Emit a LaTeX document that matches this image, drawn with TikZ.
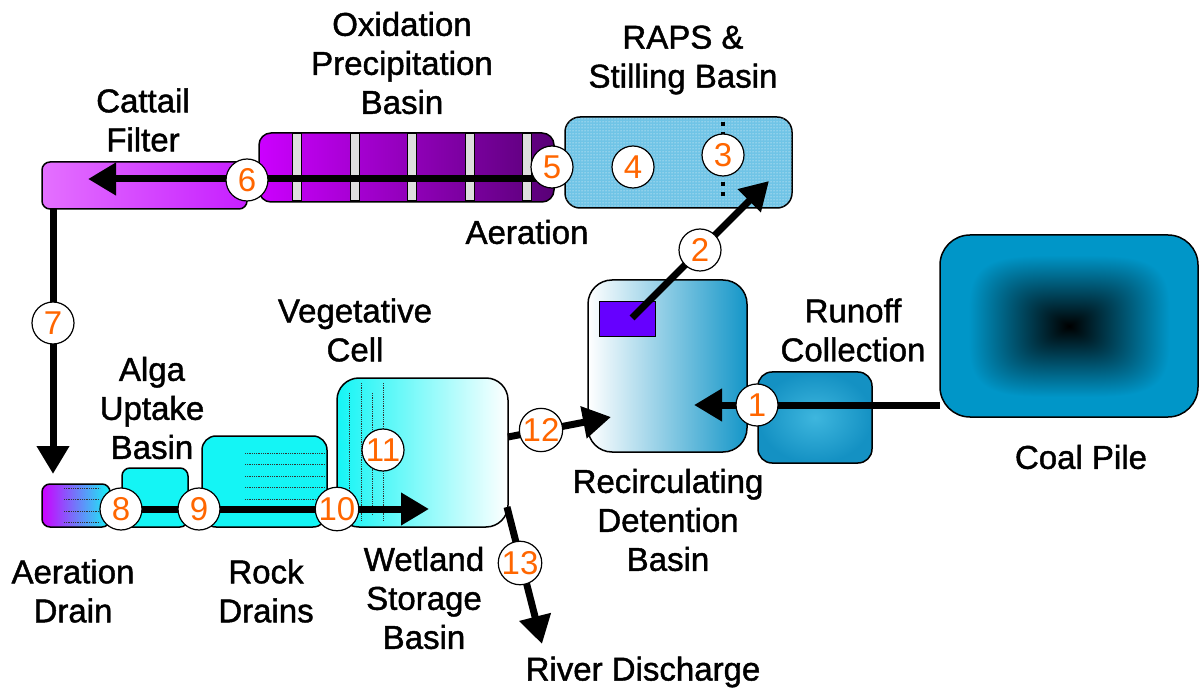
\documentclass[tikz,border=0pt]{standalone}
\usepackage{fontspec}
\setmainfont{Liberation Sans}
\newfontfamily\labfont{Liberation Sans}[FakeBold=1.3]
\usetikzlibrary{arrows.meta,patterns,shadings}

\definecolor{numor}{RGB}{255,102,0}
\definecolor{purpA}{RGB}{204,0,255}
\definecolor{purpB}{RGB}{88,0,118}
\definecolor{cattL}{RGB}{228,112,255}
\definecolor{cattR}{RGB}{198,30,255}
\definecolor{cyanA}{RGB}{20,245,245}
\definecolor{lavend}{RGB}{160,170,250}
\definecolor{recR}{RGB}{20,150,200}
\definecolor{runA}{RGB}{62,182,222}
\definecolor{runB}{RGB}{20,145,195}
\definecolor{rapsB}{RGB}{112,196,230}
\definecolor{violetbox}{RGB}{102,0,255}

% squarish gradient: black in the middle, blue towards the edges
% (the path's box covers the central 50bp x 50bp of the shading)
\pgfdeclarefunctionalshading{coalrect}{\pgfpoint{-50bp}{-50bp}}{\pgfpoint{50bp}{50bp}}{}{
  25 div dup mul dup mul
  exch 25 div dup mul dup mul
  add sqrt sqrt
  0.78 div dup 1 gt {pop 1} if
  dup 0 mul exch dup 0.588 mul exch 0.784 mul
}

\pgfdeclarelayer{basins}
\pgfdeclarelayer{markers}
\pgfsetlayers{basins,main,markers}

\tikzset{
  basin/.style={draw=black, line width=1.5pt, inner sep=0pt, outer sep=0pt, anchor=north west},
  num/.style={circle, draw=black, line width=1.2pt, fill=white, minimum size=42pt,
    inner sep=0pt, text=numor, font=\fontsize{33}{33}\selectfont},
  lab/.style={align=center, inner sep=0pt, font=\labfont\fontsize{33}{39}\selectfont},
  flow/.style={line width=7pt, -{Triangle[length=28pt,width=31pt]}},
  rule/.style={densely dotted, line width=0.8pt, black!80},
}

\begin{document}
\begin{tikzpicture}[x=1pt,y=-1pt]
\useasboundingbox (0,0) rectangle (1199,692);

\begin{pgfonlayer}{basins}
% ---------- upper treatment line ----------
\node[basin, minimum width=205pt, minimum height=47pt, rounded corners=8pt,
  left color=cattL, right color=cattR] (cattail) at (42,162) {};
\node[basin, minimum width=295pt, minimum height=69pt, rounded corners=12pt,
  left color=purpA, right color=purpB] (oxid) at (259,133) {};
\foreach \bx in {297,355,412,470,527}
  \draw[fill=black!13, line width=1pt] (\bx-4.5,134) rectangle (\bx+4.5,201);
\node[basin, minimum width=227pt, minimum height=91pt, rounded corners=15pt,
  fill=rapsB, postaction={pattern=dots, pattern color=white}] (raps) at (565,117) {};
\draw[line width=4pt, dash pattern=on 4pt off 6pt] (723,122) -- (723,197);

% ---------- collection and recirculation ----------
\node[basin, minimum width=258pt, minimum height=182pt, rounded corners=30pt,
  shading=coalrect] (coal) at (940,235) {};
\node[basin, minimum width=114pt, minimum height=91pt, rounded corners=14pt,
  inner color=runA, outer color=runB] (runoff) at (758,372) {};
\node[basin, minimum width=159pt, minimum height=172pt, rounded corners=24pt,
  left color=white, right color=recR] (recirc) at (588,280) {};
\node[basin, minimum width=56pt, minimum height=35pt, line width=1pt,
  fill=violetbox] (pump) at (599,302) {};

% ---------- lower treatment line ----------
\node[basin, minimum width=68pt, minimum height=43pt, rounded corners=8pt,
  left color=purpA, middle color=lavend, right color=cyanA] (adrain) at (42,484) {};
\foreach \ly in {488,499,511,522} \draw[rule] (64,\ly) -- (100,\ly);
\node[basin, minimum width=66pt, minimum height=59pt, rounded corners=8pt,
  fill=cyanA] (alga) at (122,468) {};
\node[basin, minimum width=125pt, minimum height=91pt, rounded corners=14pt,
  fill=cyanA] (rock) at (202,436) {};
\foreach \ly in {453,464,476,487,499} \draw[rule] (245,\ly) -- (325,\ly);
\node[basin, minimum width=171pt, minimum height=149pt, rounded corners=22pt,
  left color=cyanA, right color=white] (wet) at (337,378) {};
\draw[rule] (349,393) -- (349,520);
\draw[rule] (361,383) -- (361,520);
\draw[rule] (372,393) -- (372,515);
\draw[rule] (383,383) -- (383,520);
\end{pgfonlayer}

% ---------- flow markers ----------
\begin{pgfonlayer}{markers}
\node[num] (c1) at (757,405) {1};
\node[num] (c2) at (700,250) {2};
\node[num] (c3) at (723,155) {3};
\node[num] (c4) at (633,167) {4};
\node[num] (c5) at (552,167) {5};
\node[num] (c6) at (247,180) {6};
\node[num] (c7) at (53,323) {7};
\node[num] (c8) at (121,509) {8};
\node[num] (c9) at (199,509) {9};
\node[num] (c10) at (337,509) {10};
\node[num] (c11) at (383,450) {11};
\node[num] (c12) at (541,430) {12};
\node[num] (c13) at (520,563) {13};
\end{pgfonlayer}

% ---------- flow arrows ----------
\coordinate (t1) at (694,405);
\coordinate (t2) at (769,181);
\coordinate (s2) at (632,318);
\coordinate (t6) at (88,179);
\coordinate (t7) at (53,474);
\coordinate (t10) at (429,509);
\coordinate (s12) at (508,437);
\coordinate (t12) at (611,417);
\coordinate (s13) at (507,507);
\coordinate (t13) at (542,644);
\draw[flow] (c1.center -| coal.west) -- (t1);
\draw[flow] (s2) -- (t2);
\draw[flow] (c5.center |- t6) -- (t6);
\draw[flow] (c7.center |- cattail.south) -- (t7);
\draw[flow] (c8.center) -- (t10);
\draw[flow] (s12) -- (t12);
\draw[flow] (s13) -- (t13);

% ---------- labels ----------
\node[lab] (l-oxid) at (402,63) {Oxidation\\Precipitation\\Basin};
\node[lab] (l-cat) at (143,120) {Cattail\\Filter};
\node[lab] (l-raps) at (683,60) {RAPS \&\\Stilling Basin};
\node[lab] (l-aer) at (527,232) {Aeration};
\node[lab] (l-run) at (853,330) {Runoff\\Collection};
\node[lab] (l-coal) at (1081,457) {Coal Pile};
\node[lab] (l-rec) at (668,520) {Recirculating\\Detention\\Basin};
\node[lab] (l-veg) at (355,330) {Vegetative\\Cell};
\node[lab] (l-alga) at (152,408) {Alga\\Uptake\\Basin};
\node[lab] (l-adr) at (73,591) {Aeration\\Drain};
\node[lab] (l-rock) at (266,591) {Rock\\Drains};
\node[lab] (l-wet) at (424,598) {Wetland\\Storage\\Basin};
\node[lab] (l-river) at (643,672) {River Discharge};
\end{tikzpicture}
\end{document}
